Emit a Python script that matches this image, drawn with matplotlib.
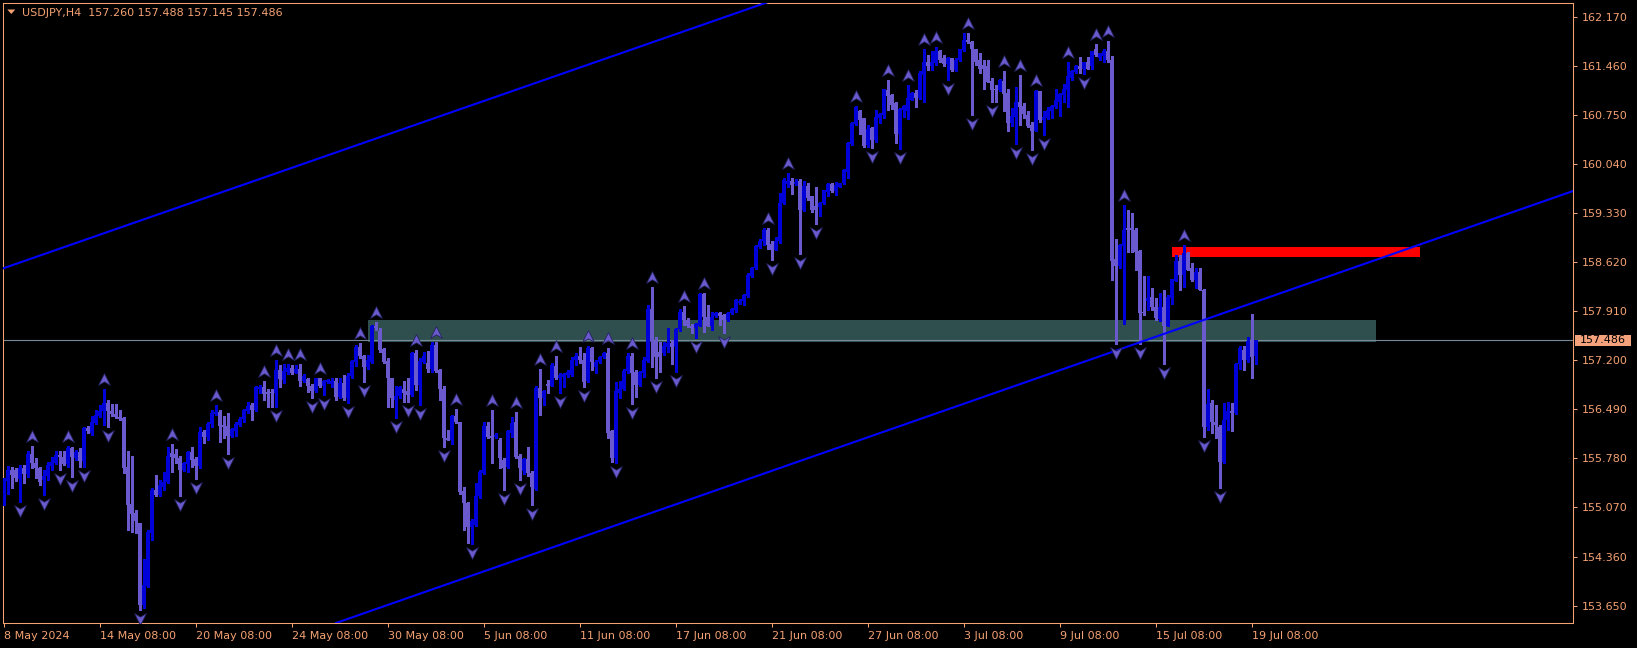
import numpy as np
import matplotlib
matplotlib.use("Agg")
import matplotlib.pyplot as plt
import matplotlib.transforms as mtransforms
from matplotlib.path import Path
from matplotlib.patches import Rectangle, Polygon

# USDJPY H4 candles, bar 0 = 8 May 2024 08:00, last = 19 Jul 12:00
opens = [
    155.13, 155.45, 155.61, 155.61, 155.48, 155.64, 155.56, 155.85, 155.71, 155.64,
    155.46, 155.53, 155.67, 155.72, 155.83, 155.80, 155.70, 155.93, 155.79, 155.87,
    155.74, 156.22, 156.15, 156.29, 156.40, 156.46, 156.58, 156.47, 156.42, 156.38,
    156.36, 155.66, 155.12, 154.99, 154.85, 153.66, 153.93, 154.70, 155.32, 155.25,
    155.37, 155.44, 155.86, 155.85, 155.79, 155.61, 155.70, 155.87, 155.77, 155.67,
    156.16, 156.09, 156.28, 156.42, 156.45, 156.26, 156.25, 156.10, 156.18, 156.27,
    156.35, 156.47, 156.55, 156.48, 156.78, 156.81, 156.74, 156.74, 156.73, 157.06,
    156.92, 157.03, 157.09, 157.02, 157.07, 156.90, 156.93, 156.83, 156.76, 156.94,
    156.82, 156.89, 156.86, 156.90, 156.67, 156.87, 156.66, 156.97, 157.17, 157.39,
    157.26, 157.10, 157.18, 157.69, 157.63, 157.36, 157.19, 156.94, 156.63, 156.68,
    156.78, 156.75, 156.70, 157.31, 156.84, 157.18, 157.16, 157.07, 157.42, 157.06,
    156.79, 156.07, 156.04, 156.39, 156.31, 155.31, 155.13, 154.78, 154.82, 155.23,
    155.57, 156.25, 156.11, 156.09, 156.05, 155.75, 155.66, 156.15, 156.30, 155.81,
    155.60, 155.77, 155.57, 155.33, 156.80, 156.66, 156.86, 156.83, 157.12, 156.95,
    156.96, 156.98, 156.99, 157.21, 157.26, 157.21, 156.90, 157.37, 157.10, 157.17,
    157.24, 157.30, 156.17, 155.78, 156.72, 156.78, 157.04, 157.26, 157.03, 156.84,
    157.02, 157.19, 157.94, 157.48, 157.32, 157.31, 157.39, 157.45, 157.39, 157.65,
    157.90, 157.78, 157.69, 157.66, 157.70, 158.16, 157.83, 157.70, 157.84, 157.89,
    157.85, 157.78, 157.88, 157.92, 158.03, 158.05, 158.13, 158.42, 158.53, 158.84,
    158.92, 159.09, 158.88, 158.80, 158.92, 159.47, 159.75, 159.80, 159.75, 159.80,
    159.37, 159.72, 159.57, 159.43, 159.41, 159.47, 159.64, 159.75, 159.65, 159.71,
    159.76, 159.93, 160.33, 160.62, 160.80, 160.70, 160.31, 160.56, 160.38, 160.70,
    160.75, 161.11, 161.04, 160.92, 160.48, 160.82, 160.80, 160.97, 161.07, 160.99,
    161.33, 161.52, 161.45, 161.50, 161.67, 161.57, 161.49, 161.57, 161.40, 161.54,
    161.69, 161.83, 161.81, 161.70, 161.55, 161.47, 161.45, 161.24, 161.13, 161.11,
    161.24, 161.07, 160.63, 160.72, 160.94, 160.88, 160.75, 160.60, 160.52, 161.09,
    160.67, 160.70, 160.80, 160.86, 160.94, 161.04, 161.11, 161.29, 161.37, 161.46,
    161.42, 161.51, 161.45, 161.70, 161.57, 161.60, 161.67, 161.54, 158.66, 158.56,
    158.85, 159.11, 159.12, 159.09, 158.78, 157.89, 158.05, 158.12, 157.97, 157.79,
    157.97, 157.70, 158.10, 158.35, 158.64, 158.43, 158.75, 158.54, 158.36, 158.48,
    158.22, 156.23, 156.58, 156.31, 156.24, 155.73, 156.33, 156.47, 156.43, 157.14,
    157.35, 157.20, 157.48, 157.260,
]
highs = [
    155.49, 155.67, 155.66, 155.64, 155.68, 155.68, 155.88, 155.96, 155.78, 155.66,
    155.61, 155.73, 155.80, 155.88, 155.89, 155.88, 155.96, 155.95, 155.90, 155.93,
    156.24, 156.25, 156.39, 156.48, 156.55, 156.78, 156.62, 156.57, 156.57, 156.48,
    156.38, 155.88, 155.81, 155.03, 154.85, 154.32, 154.74, 155.35, 155.54, 155.47,
    155.59, 155.94, 155.99, 155.92, 155.81, 155.73, 155.89, 155.95, 155.80, 156.23,
    156.19, 156.31, 156.48, 156.55, 156.48, 156.39, 156.43, 156.22, 156.30, 156.38,
    156.50, 156.60, 156.58, 156.83, 156.84, 156.90, 156.79, 156.79, 157.20, 157.13,
    157.14, 157.14, 157.13, 157.13, 157.15, 157.00, 156.95, 156.86, 156.95, 156.95,
    156.91, 156.93, 156.95, 156.94, 156.95, 156.99, 157.01, 157.21, 157.42, 157.45,
    157.28, 157.28, 157.71, 157.76, 157.66, 157.37, 157.23, 156.95, 156.82, 156.82,
    156.90, 156.94, 157.32, 157.35, 157.23, 157.32, 157.34, 157.47, 157.47, 157.07,
    156.82, 156.19, 156.41, 156.49, 156.31, 155.37, 155.15, 154.91, 155.43, 155.61,
    156.31, 156.30, 156.48, 156.14, 156.07, 155.78, 156.19, 156.38, 156.45, 155.85,
    155.78, 155.95, 155.60, 156.82, 157.08, 156.77, 156.91, 157.16, 157.26, 157.01,
    157.02, 157.06, 157.24, 157.30, 157.39, 157.30, 157.40, 157.39, 157.20, 157.26,
    157.32, 157.37, 156.19, 156.89, 156.90, 157.07, 157.30, 157.30, 157.06, 157.05,
    157.24, 158.00, 158.26, 157.54, 157.47, 157.47, 157.66, 157.49, 157.66, 157.94,
    157.98, 157.81, 157.72, 157.74, 158.17, 158.17, 158.00, 157.90, 157.90, 157.90,
    157.87, 157.90, 157.95, 158.08, 158.08, 158.16, 158.46, 158.55, 158.87, 158.95,
    159.12, 159.12, 158.92, 158.99, 159.62, 159.83, 159.91, 159.83, 159.82, 159.82,
    159.79, 159.76, 159.58, 159.70, 159.49, 159.67, 159.76, 159.76, 159.78, 159.77,
    159.97, 160.36, 160.65, 160.88, 160.82, 160.71, 160.60, 160.58, 160.82, 160.78,
    161.13, 161.26, 161.05, 160.93, 160.85, 160.89, 161.18, 161.08, 161.11, 161.38,
    161.71, 161.62, 161.67, 161.73, 161.69, 161.62, 161.59, 161.58, 161.57, 161.71,
    161.93, 161.94, 161.82, 161.71, 161.65, 161.54, 161.54, 161.29, 161.18, 161.27,
    161.39, 161.13, 160.85, 161.16, 161.33, 160.92, 160.80, 160.64, 161.11, 161.10,
    160.80, 160.86, 160.89, 161.12, 161.07, 161.20, 161.51, 161.40, 161.47, 161.59,
    161.52, 161.59, 161.68, 161.78, 161.65, 161.71, 161.82, 161.60, 158.96, 158.88,
    159.45, 159.37, 159.33, 159.11, 158.79, 158.42, 158.42, 158.24, 158.10, 158.17,
    158.22, 158.14, 158.38, 158.72, 158.72, 158.87, 158.77, 158.60, 158.53, 158.53,
    158.23, 156.79, 156.63, 156.55, 156.26, 156.58, 156.59, 156.58, 157.16, 157.41,
    157.40, 157.54, 157.87, 157.488,
]
lows = [
    155.10, 155.27, 155.35, 155.45, 155.15, 155.42, 155.51, 155.64, 155.49, 155.39,
    155.25, 155.47, 155.61, 155.70, 155.61, 155.68, 155.66, 155.51, 155.76, 155.66,
    155.66, 156.14, 156.12, 156.28, 156.38, 156.26, 156.23, 156.39, 156.36, 156.33,
    155.57, 154.74, 154.72, 154.70, 153.59, 153.62, 153.92, 154.60, 155.23, 155.23,
    155.32, 155.43, 155.59, 155.71, 155.23, 155.60, 155.59, 155.66, 155.48, 155.64,
    156.00, 156.05, 156.24, 156.41, 156.02, 156.08, 155.84, 156.09, 156.10, 156.25,
    156.30, 156.44, 156.34, 156.46, 156.73, 156.63, 156.53, 156.53, 156.52, 156.81,
    156.87, 157.00, 157.00, 157.01, 156.83, 156.88, 156.74, 156.65, 156.74, 156.81,
    156.70, 156.87, 156.81, 156.62, 156.65, 156.62, 156.58, 156.94, 157.11, 157.23,
    156.89, 157.08, 157.16, 157.64, 157.32, 157.16, 156.53, 156.53, 156.36, 156.66,
    156.60, 156.60, 156.68, 156.77, 156.55, 157.16, 157.03, 157.03, 157.03, 156.62,
    155.95, 156.04, 155.99, 156.29, 155.26, 154.74, 154.55, 154.54, 154.80, 155.20,
    155.56, 156.07, 155.71, 156.07, 155.64, 155.32, 155.64, 156.09, 155.78, 155.47,
    155.55, 155.52, 155.11, 155.32, 156.41, 156.55, 156.72, 156.82, 156.93, 156.73,
    156.81, 156.96, 156.97, 157.13, 157.16, 156.81, 156.88, 157.06, 157.02, 157.16,
    157.23, 156.07, 155.73, 155.71, 156.65, 156.77, 157.01, 156.57, 156.67, 156.82,
    156.96, 157.18, 157.10, 156.95, 157.03, 157.28, 157.32, 157.15, 157.03, 157.63,
    157.71, 157.68, 157.59, 157.52, 157.69, 157.61, 157.69, 157.64, 157.83, 157.71,
    157.60, 157.77, 157.87, 157.90, 158.01, 158.00, 158.12, 158.41, 158.52, 158.83,
    158.87, 158.81, 158.65, 158.79, 158.90, 159.46, 159.71, 159.61, 159.74, 158.74,
    159.36, 159.52, 159.35, 159.17, 159.28, 159.46, 159.57, 159.64, 159.59, 159.70,
    159.75, 159.83, 160.32, 160.61, 160.48, 160.28, 160.29, 160.27, 160.36, 160.63,
    160.70, 160.82, 160.83, 160.35, 160.25, 160.72, 160.69, 160.96, 160.86, 160.98,
    160.94, 161.40, 161.40, 161.47, 161.51, 161.45, 161.25, 161.39, 161.39, 161.53,
    161.68, 161.79, 160.75, 161.47, 161.35, 161.13, 161.22, 160.93, 160.94, 161.10,
    160.80, 160.51, 160.59, 160.33, 160.60, 160.70, 160.58, 160.24, 160.51, 160.65,
    160.46, 160.69, 160.70, 160.845, 160.73, 160.94, 160.87, 161.26, 161.35, 161.35,
    161.34, 161.41, 161.41, 161.60, 161.54, 161.52, 161.52, 158.36, 157.44, 158.54,
    157.73, 158.77, 158.77, 158.50, 157.44, 157.85, 157.93, 157.93, 157.78, 157.77,
    157.15, 157.69, 158.01, 158.34, 158.22, 158.26, 158.50, 158.35, 158.24, 158.21,
    156.09, 156.19, 156.15, 156.07, 155.35, 155.72, 156.19, 156.18, 156.42, 157.07,
    157.06, 157.18, 156.95, 157.145,
]
closes = [
    155.47, 155.61, 155.54, 155.50, 155.64, 155.55, 155.85, 155.71, 155.64, 155.44,
    155.53, 155.68, 155.73, 155.83, 155.80, 155.70, 155.93, 155.80, 155.87, 155.74,
    156.22, 156.17, 156.30, 156.41, 156.47, 156.58, 156.47, 156.42, 156.38, 156.35,
    155.64, 155.10, 154.98, 154.87, 153.66, 153.95, 154.72, 155.32, 155.25, 155.39,
    155.44, 155.81, 155.80, 155.79, 155.61, 155.71, 155.87, 155.76, 155.67, 156.16,
    156.09, 156.28, 156.43, 156.45, 156.25, 156.24, 156.10, 156.21, 156.28, 156.35,
    156.48, 156.54, 156.48, 156.81, 156.81, 156.71, 156.71, 156.73, 157.06, 156.93,
    157.04, 157.09, 157.02, 157.08, 156.90, 156.97, 156.82, 156.76, 156.94, 156.82,
    156.90, 156.92, 156.90, 156.67, 156.87, 156.66, 156.97, 157.19, 157.39, 157.26,
    157.10, 157.20, 157.69, 157.66, 157.35, 157.18, 156.94, 156.65, 156.68, 156.81,
    156.73, 156.70, 157.30, 156.84, 157.19, 157.26, 157.07, 157.42, 157.05, 156.78,
    156.07, 156.05, 156.39, 156.30, 155.30, 155.13, 154.78, 154.88, 155.24, 155.59,
    156.25, 156.09, 156.08, 156.12, 155.78, 155.64, 156.17, 156.29, 155.80, 155.64,
    155.77, 155.57, 155.36, 156.80, 156.66, 156.75, 156.83, 157.13, 156.95, 156.99,
    157.00, 157.03, 157.21, 157.26, 157.20, 156.89, 157.37, 157.17, 157.18, 157.24,
    157.30, 156.15, 155.78, 156.75, 156.79, 157.04, 157.26, 157.02, 156.84, 157.03,
    157.21, 157.94, 157.48, 157.24, 157.24, 157.40, 157.45, 157.39, 157.65, 157.90,
    157.78, 157.69, 157.66, 157.73, 158.16, 157.82, 157.70, 157.83, 157.88, 157.84,
    157.78, 157.89, 157.94, 158.07, 158.06, 158.14, 158.43, 158.54, 158.85, 158.93,
    159.09, 158.87, 158.80, 158.93, 159.47, 159.81, 159.80, 159.74, 159.78, 159.37,
    159.72, 159.55, 159.37, 159.38, 159.48, 159.66, 159.75, 159.65, 159.73, 159.76,
    159.95, 160.34, 160.63, 160.86, 160.68, 160.30, 160.55, 160.39, 160.72, 160.76,
    161.12, 161.02, 160.89, 160.48, 160.83, 160.88, 160.99, 161.07, 160.99, 161.35,
    161.52, 161.46, 161.52, 161.67, 161.55, 161.48, 161.57, 161.40, 161.55, 161.70,
    161.83, 161.81, 161.70, 161.52, 161.42, 161.41, 161.23, 161.11, 161.11, 161.26,
    161.05, 160.63, 160.73, 160.94, 160.86, 160.76, 160.59, 160.52, 161.09, 160.67,
    160.72, 160.82, 160.88, 160.97, 161.05, 161.12, 161.31, 161.38, 161.46, 161.41,
    161.51, 161.42, 161.67, 161.62, 161.64, 161.67, 161.54, 158.63, 158.56, 158.87,
    159.08, 159.08, 159.09, 158.77, 157.88, 157.88, 158.10, 157.97, 157.81, 157.97,
    157.70, 158.12, 158.37, 158.64, 158.43, 158.75, 158.51, 158.36, 158.48, 158.22,
    156.23, 156.57, 156.30, 156.26, 155.73, 156.34, 156.47, 156.43, 157.15, 157.37,
    157.20, 157.48, 157.25, 157.486,
]

time_tick_bars = [0, 24, 48, 72, 96, 120, 144, 168, 192, 216, 240, 264, 288, 312]
time_tick_labels = ["8 May 2024", "14 May 08:00", "20 May 08:00", "24 May 08:00",
                    "30 May 08:00", "5 Jun 08:00", "11 Jun 08:00", "17 Jun 08:00",
                    "21 Jun 08:00", "27 Jun 08:00", "3 Jul 08:00", "9 Jul 08:00",
                    "15 Jul 08:00", "19 Jul 08:00"]
price_ticks = [153.650, 154.360, 155.070, 155.780, 156.490, 157.200, 157.910,
               158.620, 159.330, 160.040, 160.750, 161.460, 162.170]

bid = 157.486
header = "USDJPY,H4  157.260 157.488 157.145 157.486"

# drawn objects (bar index, price)
upper_channel = [(-0.9, 158.514), (188.8, 162.337)]
lower_channel = [(128.65, 154.319), (392.3, 159.648)]
zone_bars = (91, 343)
zone_prices = (157.47, 157.78)
red_bars = (292, 354)
red_prices = (158.70, 158.84)

fg = "#F5A273"
bull_col = "#0000D8"
bear_col = "#6A5ACD"

W, H = 1637, 648
fig = plt.figure(figsize=(W / 100, H / 100), dpi=100, facecolor="black")
ax = fig.add_axes([3 / W, 25 / H, 1570 / W, 620.5 / H])
ax.set_facecolor("black")

o = np.array(opens)
h = np.array(highs)
l = np.array(lows)
c = np.array(closes)
x = np.arange(len(c))
cols = [bull_col if cc >= oo else bear_col for oo, cc in zip(o, c)]

# background objects
ax.add_patch(Rectangle((zone_bars[0], zone_prices[0]), zone_bars[1] - zone_bars[0],
                       zone_prices[1] - zone_prices[0], fc="#2F4F4F", ec="none", zorder=1))
ax.add_patch(Rectangle((red_bars[0], red_prices[0]), red_bars[1] - red_bars[0],
                       red_prices[1] - red_prices[0], fc="#FF0000", ec="none", zorder=1))
ax.axhline(bid, color="#778899", lw=0.8, zorder=2)

# candles
ax.vlines(x, l, h, colors=cols, lw=0.75, zorder=3, antialiased=False)
body = np.maximum(np.abs(c - o), 0.012)
ax.bar(x, body, bottom=np.minimum(o, c), width=0.72, color=cols,
       linewidth=0, zorder=4, antialiased=False)

# channel lines
ax.axline(upper_channel[0], upper_channel[1], color="#0000FF", lw=1.5, zorder=5)
ax.axline(lower_channel[0], lower_channel[1], color="#0000FF", lw=1.5, zorder=5)

# Bill Williams fractals
n = len(c)
fr_up = [i for i in range(2, n - 2)
         if h[i] >= h[i - 1] and h[i] >= h[i - 2] and h[i] > h[i + 1] and h[i] > h[i + 2]]
fr_dn = [i for i in range(2, n - 2)
         if l[i] <= l[i - 1] and l[i] <= l[i - 2] and l[i] < l[i + 1] and l[i] < l[i + 2]]
codes = [Path.MOVETO, Path.LINETO, Path.LINETO, Path.LINETO, Path.CLOSEPOLY]
arrow_up = Path([(0, 1), (1, -1), (0, -0.4), (-1, -1), (0, 1)], codes)
arrow_dn = Path([(0, -1), (1, 1), (0, 0.4), (-1, 1), (0, -1)], codes)
up_tr = mtransforms.offset_copy(ax.transData, fig=fig, y=10, units="dots")
dn_tr = mtransforms.offset_copy(ax.transData, fig=fig, y=-9, units="dots")
ax.plot(x[fr_up], h[fr_up], ls="none", marker=arrow_up, ms=8.5, mfc=bear_col,
        mec="#24245E", mew=0.6, transform=up_tr, zorder=6)
ax.plot(x[fr_dn], l[fr_dn], ls="none", marker=arrow_dn, ms=8.5, mfc=bear_col,
        mec="#24245E", mew=0.6, transform=dn_tr, zorder=6)

# axes
ax.set_xlim(-0.175, 392.3)
ax.set_ylim(153.398, 162.376)
ax.yaxis.tick_right()
ax.set_yticks(price_ticks)
ax.set_yticklabels([f"{p:.3f}" for p in price_ticks])
ax.set_xticks(time_tick_bars)
ax.set_xticklabels(time_tick_labels, ha="left")
ax.tick_params(axis="y", colors=fg, labelsize=8, length=3, width=0.75, pad=3)
ax.tick_params(axis="x", colors=fg, labelsize=8, length=3, width=0.75, pad=2.5)
for s in ax.spines.values():
    s.set_color(fg)
    s.set_linewidth(0.75)

# bid price label
btr = mtransforms.blended_transform_factory(ax.transAxes, ax.transData)
ax.add_patch(Rectangle((1.0013, bid - 0.084), 0.0357, 0.168, transform=btr,
                       fc="#F4A27C", ec="none", clip_on=False, zorder=7))
ax.text(1.0013 + 0.0357 / 2, bid, f"{bid:.3f}", transform=btr, ha="center",
        va="center", fontsize=8, color="black", zorder=8)

# header
fig.patches.append(Polygon([[7.3, H - 9.5], [15.3, H - 9.5], [11.3, H - 14]],
                           closed=True, fc=fg, ec="none",
                           transform=mtransforms.IdentityTransform()))
fig.text(21.5 / W, 1 - 12.5 / H, header, color=fg, fontsize=8, ha="left", va="center")

fig.savefig("out.png", dpi=100, facecolor="black")
